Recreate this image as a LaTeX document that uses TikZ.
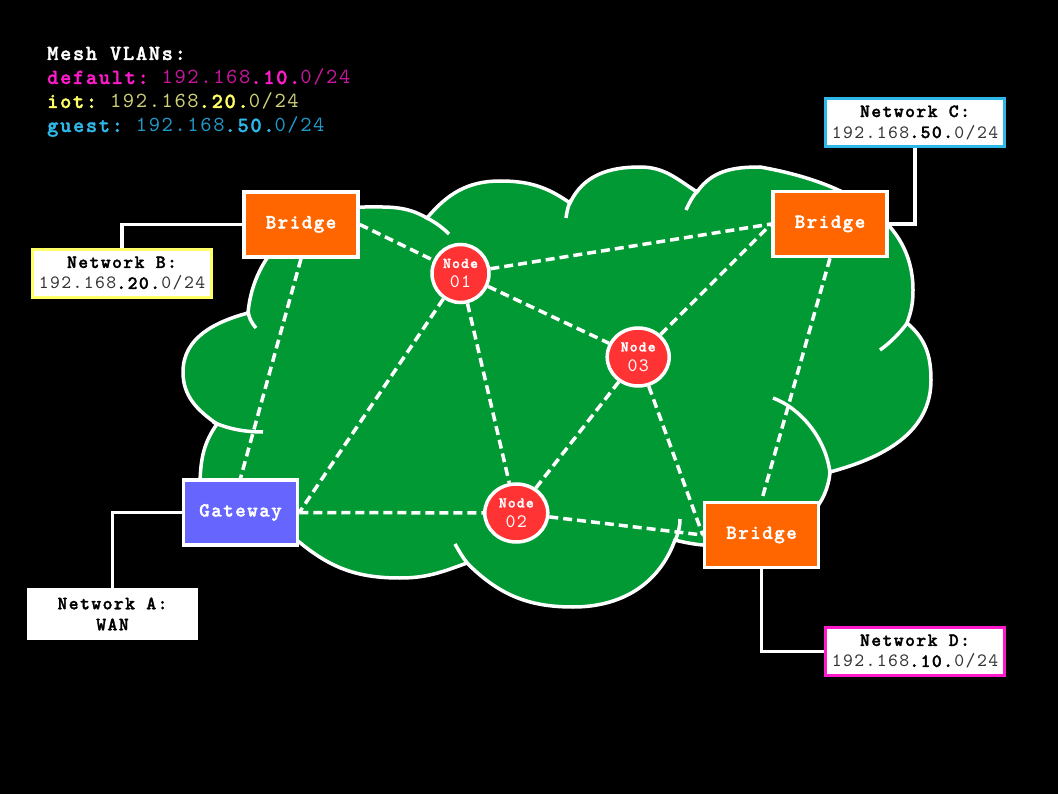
\documentclass[tikz,border=0pt]{standalone}
\usepackage{fontspec}
\setmonofont{lmmono10-regular}[Extension=.otf, UprightFont=lmmono10-regular, BoldFont=lmmonolt10-bold, BoldFeatures={FakeBold=1.6}, LetterSpace=7.5]
\usetikzlibrary{shapes.geometric}
\definecolor{cloudgreen}{HTML}{009933}
\definecolor{bridgeorange}{HTML}{FF6600}
\definecolor{gwblue}{HTML}{6666FF}
\definecolor{nodered}{HTML}{FF3333}
\definecolor{magA}{HTML}{FF1ACB}
\definecolor{magB}{HTML}{C8159E}
\definecolor{yelA}{HTML}{FFFF66}
\definecolor{yelB}{HTML}{CFCF78}
\definecolor{cyaA}{HTML}{2EB8EA}
\definecolor{cyaB}{HTML}{2098C8}
\definecolor{numgray}{HTML}{333333}
\begin{document}
\begin{tikzpicture}[x=1pt,y=-1pt,
  device/.style={draw=white, line width=3.5pt, minimum width=114pt, minimum height=65pt, inner sep=0pt, text=white, font=\ttfamily\bfseries\fontsize{20}{24}\selectfont},
  bridgebox/.style={device, fill=bridgeorange},
  gwbox/.style={device, fill=gwblue},
  meshnode/.style={ellipse, draw=white, line width=3.5pt, fill=nodered, inner sep=0pt, text=white, align=center, font=\ttfamily\fontsize{16}{20}\selectfont},
  netbox/.style={draw, line width=3.5pt, fill=white, minimum width=179pt, minimum height=48pt, inner sep=0pt, align=center, text=black, font=\ttfamily\fontsize{18.8}{21}\selectfont},
  mesh/.style={draw=white, line width=3.5pt, dash pattern=on 9pt off 5pt},
  uplink/.style={draw=white, line width=3.5pt},
  cloudline/.style={draw=white, line width=3.5pt},
  legend/.style={anchor=base west, inner sep=0pt, font=\ttfamily\fontsize{21.5}{24}\selectfont}
]
% background
\fill[black] (0,0) rectangle (1058,794);

% cloud
\path[cloudline, fill=cloudgreen] (248,313)
  to[out=85,in=180] (365,207)
  to[out=0,in=150] (427,218)
  to[out=50,in=180] (500,181)
  to[out=0,in=145] (570,203)
  to[out=65,in=180] (640,167)
  to[out=0,in=147] (697,192)
  to[out=55,in=180] (760,167)
  to[out=-10,in=90] (913,290)
  to[out=270,in=70] (907,323)
  to[out=-40,in=90] (931,380)
  to[out=270,in=15] (830,472)
  to[out=265,in=-15] (675,540)
  to[out=250,in=0] (573,607)
  to[out=180,in=-45] (467,563)
  to[out=200,in=0] (400,578)
  to[out=180,in=-40] (298,541)
  to[out=140,in=-88] (200,482)
  to[out=88,in=235] (217,424)
  to[out=145,in=270] (183,372)
  to[out=90,in=195] (248,313)
  -- cycle;
% cloud creases
\draw[cloudline] (213,422) .. controls (228,429) and (245,432) .. (263,432);
\draw[cloudline] (248,311) .. controls (249,318) and (251,322) .. (256,328);
\draw[cloudline] (425,217) .. controls (433,221) and (441,226) .. (449,234);
\draw[cloudline] (571,200) .. controls (568,206) and (567,211) .. (566,218);
\draw[cloudline] (698,190) .. controls (693,196) and (689,203) .. (686,210);
\draw[cloudline] (908,322) .. controls (900,333) and (890,343) .. (880,350);
\draw[cloudline] (773,398) .. controls (800,408) and (826,438) .. (830,473);
\draw[cloudline] (675,541) .. controls (678,534) and (680,527) .. (680,519);
\draw[cloudline] (468,564) .. controls (463,558) and (459,551) .. (455,544);

% legend
\node[legend, text=white] (lgtitle) at (47,60) {\bfseries Mesh VLANs:};
\node[legend] (lgdefault) at (47,84) {\textcolor{magA}{\bfseries default:} \textcolor{magB}{192.168}\textcolor{magA}{\bfseries .10.}\textcolor{magB}{0/24}};
\node[legend] (lgiot) at (47,108) {\textcolor{yelA}{\bfseries iot:} \textcolor{yelB}{192.168}\textcolor{yelA}{\bfseries .20.}\textcolor{yelB}{0/24}};
\node[legend] (lgguest) at (47,132) {\textcolor{cyaA}{\bfseries guest:} \textcolor{cyaB}{192.168}\textcolor{cyaA}{\bfseries .50.}\textcolor{cyaB}{0/24}};

% devices
\node[bridgebox] (bTL) at (301,224.5) {Bridge};
\node[bridgebox] (bTR) at (830,224) {Bridge};
\node[bridgebox] (bD) at (761.5,535) {Bridge};
\node[gwbox] (gw) at (240.5,512.5) {Gateway};

% mesh nodes
\node[meshnode, minimum width=57pt, minimum height=58pt] (n1) at (460.5,273.5) {{\bfseries\fontsize{15}{20}\selectfont Node}\\{\fontsize{19}{20}\selectfont 01}};
\node[meshnode, minimum width=63pt, minimum height=58pt] (n2) at (516.3,513) {{\bfseries\fontsize{15}{20}\selectfont Node}\\{\fontsize{19}{20}\selectfont 02}};
\node[meshnode, minimum width=62pt, minimum height=58pt] (n3) at (638.2,357) {{\bfseries\fontsize{15}{20}\selectfont Node}\\{\fontsize{19}{20}\selectfont 03}};

% networks
\node[netbox, draw=yelA] (netB) at (122,273.5) {{\bfseries Network B:}\\\textcolor{numgray}{192.168}\textbf{.20.}\textcolor{numgray}{0/24}};
\node[netbox, draw=cyaA] (netC) at (915,122.5) {{\bfseries Network C:}\\\textcolor{numgray}{192.168}\textbf{.50.}\textcolor{numgray}{0/24}};
\node[netbox, draw=magA] (netD) at (915,651.5) {{\bfseries Network D:}\\\textcolor{numgray}{192.168}\textbf{.10.}\textcolor{numgray}{0/24}};
\node[netbox, draw=white, minimum width=168pt, minimum height=49pt] (netA) at (112.5,614) {{\bfseries Network A:}\\{\bfseries WAN}};

% mesh links
\draw[mesh] (bTL.east) -- (n1);
\draw[mesh] (bTL.south) -- (gw.north);
\draw[mesh] (n1) -- (bTR.west);
\draw[mesh] (n1) -- (n3);
\draw[mesh] (n1) -- (n2);
\draw[mesh] (n1) -- (gw.east);
\draw[mesh] (gw.east) -- (n2);
\draw[mesh] (n2) -- (n3);
\draw[mesh] (n2) -- (bD.west);
\draw[mesh] (n3) -- (bD.west);
\draw[mesh] (n3) -- (bTR.west);
\draw[mesh] (bTR.south) -- (bD.north);

% uplinks
\draw[uplink] (bTL.west) -| (netB.north);
\draw[uplink] (bTR.east) -| (netC.south);
\draw[uplink] (gw.west) -| (netA.north);
\draw[uplink] (bD.south) |- (netD.west);
\end{tikzpicture}
\end{document}
